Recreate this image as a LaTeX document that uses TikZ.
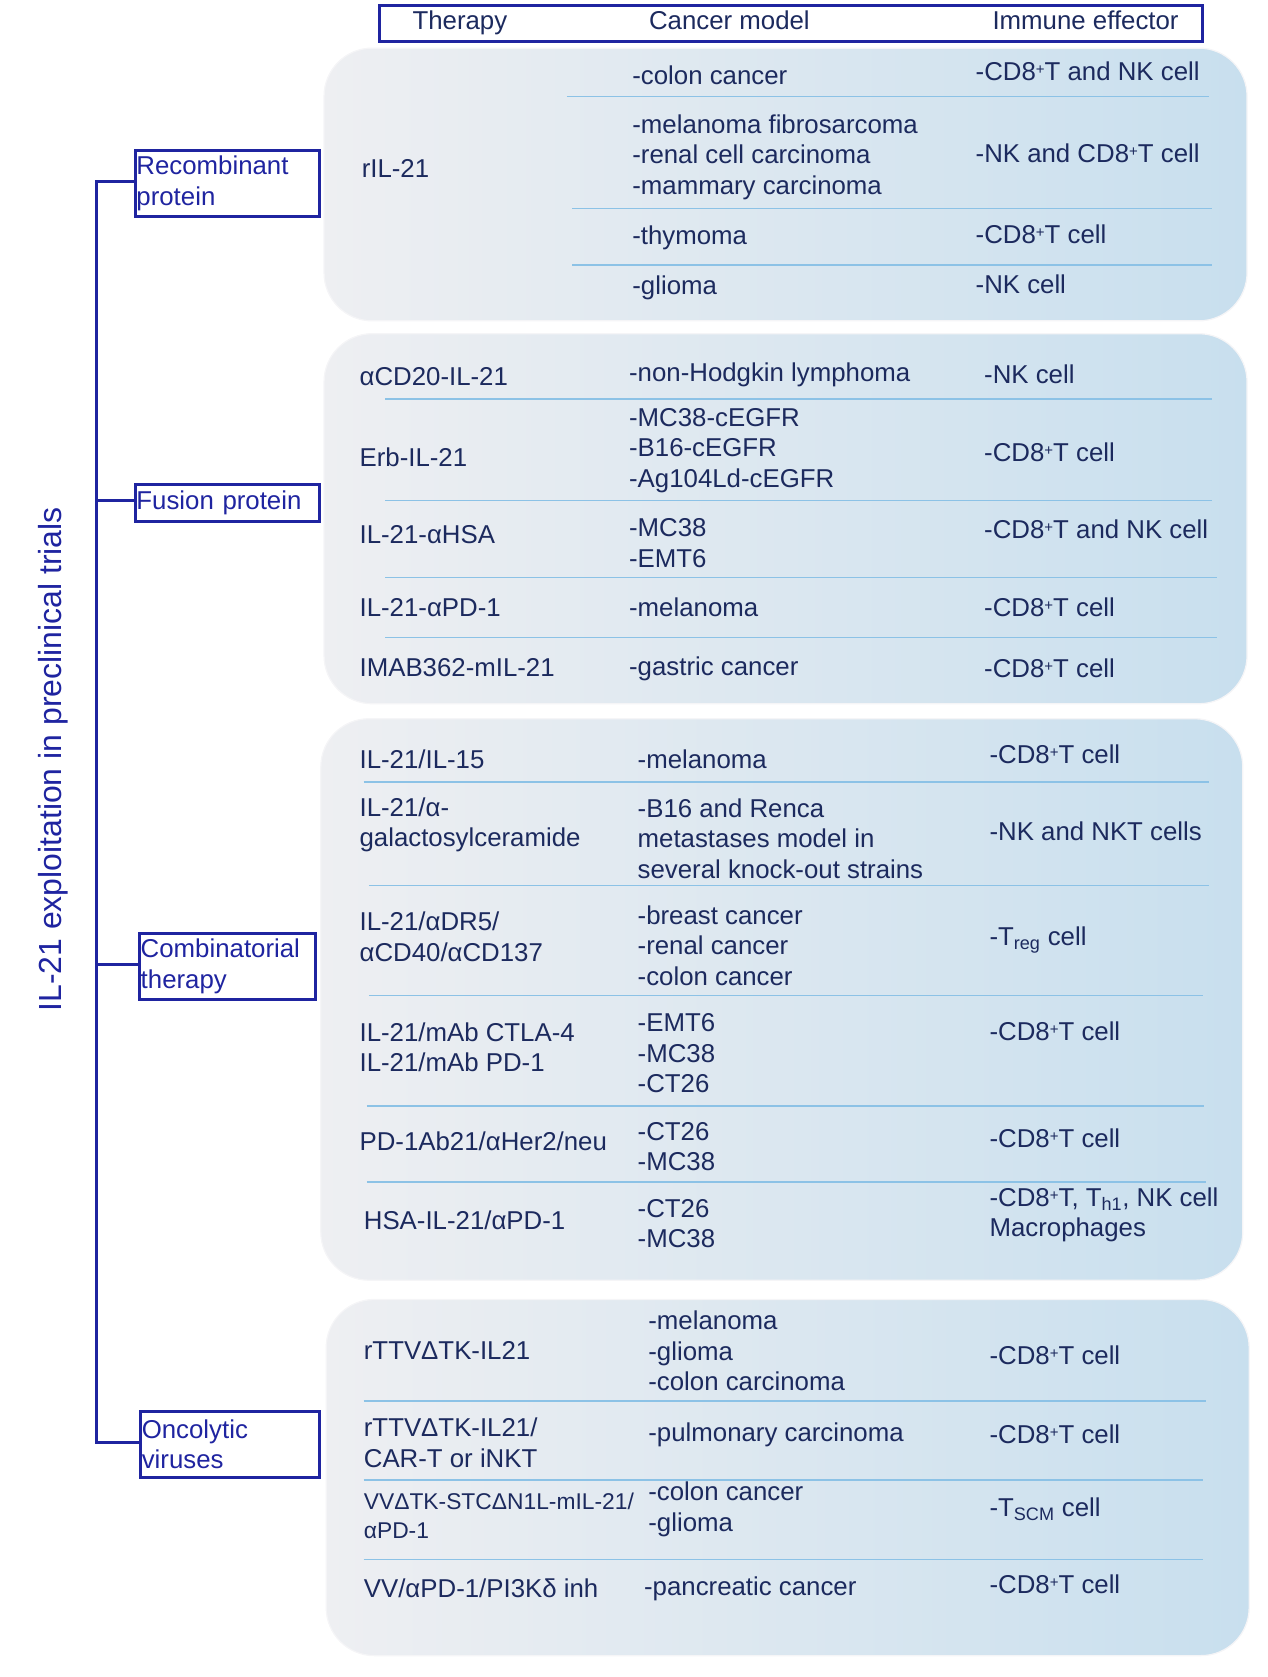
\documentclass[tikz,border=0pt]{standalone}
\usepackage{fontspec}
\setmainfont{Liberation Sans}
\definecolor{dblue}{HTML}{1F24A0}
\definecolor{txt}{HTML}{1C2A5E}
\definecolor{pgray}{HTML}{EEEFF2}
\definecolor{pblue}{HTML}{C8DFEE}
\definecolor{sep}{HTML}{8CC2E6}
\newcommand{\sps}[1]{\raisebox{0.45ex}{\fontsize{12}{12}\selectfont #1}}
\begin{document}
\begin{tikzpicture}[x=0.03cm,y=-0.03cm,
  panel/.style={rounded corners=1.35cm,left color=pgray,right color=pblue,draw=pgray!60!white,line width=1pt},
  sepl/.style={draw=sep,line width=1.2pt},
  t/.style={anchor=west,inner sep=0pt,text=txt,align=left,font=\fontsize{20.6}{24.3}\selectfont},
  cat/.style={draw=dblue,line width=2.4pt,text=dblue,anchor=north west,inner xsep=1pt,inner ysep=0pt,align=left,font=\fontsize{20.6}{24.3}\selectfont},
  tree/.style={draw=dblue,line width=2.6pt}]
\useasboundingbox (0,0) rectangle (1185,1568);
% header
\node[draw=dblue,line width=2.4pt,minimum width=770*0.03cm,minimum height=33*0.03cm,anchor=north west,inner sep=0pt] (hdr) at (353,4) {};
\node[t,anchor=base] (h1) at (430,28) {Therapy};
\node[t,anchor=base] (h2) at (682,28) {Cancer model};
\node[t,anchor=base] (h3) at (1015,28) {Immune effector};
% panels
\path[panel] (303,45) rectangle (1166,300);
\path[panel] (303,312) rectangle (1166,658);
\path[panel] (300,672) rectangle (1162,1197);
\path[panel] (305,1215) rectangle (1168,1548);
% separators
\foreach \y/\a/\b in {90/530/1130,195/535/1133,248/535/1133,373/360/1133,468/360/1133,540/360/1138,596/360/1138,731/340/1130,828/345/1130,931/345/1125,1034/343/1126,1105/343/1128,1310/340/1128,1384/340/1125,1458/340/1125}
  \draw[sepl] (\a,\y) -- (\b,\y);
% tree
\node[cat,text width=170*0.03cm,minimum height=62*0.03cm] (c1) at (125,139) {Recombinant\\protein};
\node[cat,text width=170*0.03cm,minimum height=34*0.03cm] (c2) at (125,452) {Fusion protein};
\node[cat,text width=162*0.03cm,minimum height=62*0.03cm] (c3) at (129,871) {Combinatorial\\therapy};
\node[cat,text width=165*0.03cm,minimum height=62*0.03cm] (c4) at (130,1318) {Oncolytic\\viruses};
\coordinate (v1) at (90,170);
\coordinate (v4) at (90,1349);
\draw[tree] (c1.west |- 0,170) -- (v1) -- (v4) -- (c4.west |- 0,1349);
\coordinate (v2) at (90,468);
\coordinate (v3) at (90,902);
\draw[tree] (v2) -- (c2.west |- 0,468);
\draw[tree] (v3) -- (c3.west |- 0,902);
\node[t,anchor=center,rotate=90,text=dblue,font=\fontsize{25.5}{30}\selectfont] (ttl) at (50,710) {IL-21 exploitation in preclinical trials};
% panel 1
\node[t] (a1) at (338,158) {rIL-21};
\node[t] (a2) at (591,70) {-colon cancer};
\node[t] (a3) at (591,147) {-melanoma fibrosarcoma\\-renal cell carcinoma\\-mammary carcinoma};
\node[t] (a4) at (591,222) {-thymoma};
\node[t] (a5) at (591,269) {-glioma};
\node[t] (a6) at (912,67) {-CD8\sps{+}T and NK cell};
\node[t] (a7) at (912,143) {-NK and CD8\sps{+}T cell};
\node[t] (a8) at (912,219) {-CD8\sps{+}T cell};
\node[t] (a9) at (912,266) {-NK cell};
% panel 2
\node[t] (b1) at (336,352) {αCD20-IL-21};
\node[t] (b2) at (336,428) {Erb-IL-21};
\node[t] (b3) at (336,500) {IL-21-αHSA};
\node[t] (b4) at (336,568) {IL-21-αPD-1};
\node[t] (b5) at (336,624) {IMAB362-mIL-21};
\node[t] (b6) at (588,350) {-non-Hodgkin lymphoma};
\node[t] (b7) at (588,421) {-MC38-cEGFR\\-B16-cEGFR\\-Ag104Ld-cEGFR};
\node[t] (b8) at (588,508) {-MC38\\-EMT6};
\node[t] (b9) at (588,568) {-melanoma};
\node[t] (b10) at (588,625) {-gastric cancer};
\node[t] (b11) at (920,350) {-NK cell};
\node[t] (b12) at (920,423) {-CD8\sps{+}T cell};
\node[t] (b13) at (920,495) {-CD8\sps{+}T and NK cell};
\node[t] (b14) at (920,568) {-CD8\sps{+}T cell};
\node[t] (b15) at (920,625) {-CD8\sps{+}T cell};
% panel 3
\node[t] (d1) at (336,710) {IL-21/IL-15};
\node[t] (d2) at (336,771) {IL-21/α-\\galactosylceramide};
\node[t] (d3) at (336,876) {IL-21/αDR5/\\αCD40/αCD137};
\node[t] (d4) at (336,979) {IL-21/mAb CTLA-4\\IL-21/mAb PD-1};
\node[t] (d5) at (336,1067) {PD-1Ab21/αHer2/neu};
\node[t] (d6) at (340,1141) {HSA-IL-21/αPD-1};
\node[t] (d7) at (596,710) {-melanoma};
\node[t] (d8) at (596,784) {-B16 and Renca\\metastases model in\\several knock-out strains};
\node[t] (d9) at (596,884) {-breast cancer\\-renal cancer\\-colon cancer};
\node[t] (d10) at (596,985) {-EMT6\\-MC38\\-CT26};
\node[t] (d11) at (596,1072) {-CT26\\-MC38};
\node[t] (d12) at (596,1144) {-CT26\\-MC38};
\node[t] (d13) at (925,705) {-CD8\sps{+}T cell};
\node[t] (d14) at (925,777) {-NK and NKT cells};
\node[t] (d15) at (925,879) {-T\textsubscript{reg} cell};
\node[t] (d16) at (925,964) {-CD8\sps{+}T cell};
\node[t] (d17) at (925,1064) {-CD8\sps{+}T cell};
\node[t] (d18) at (925,1136) {-CD8\sps{+}T, T\textsubscript{h1}, NK cell\\Macrophages};
% panel 4
\node[t] (e1) at (340,1263) {rTTVΔTK-IL21};
\node[t] (e2) at (340,1349) {rTTVΔTK-IL21/\\CAR-T or iNKT};
\node[t,font=\fontsize{18.2}{23}\selectfont] (e3) at (340,1417) {VVΔTK-STCΔN1L-mIL-21/\\αPD-1};
\node[t] (e4) at (340,1485) {VV/αPD-1/PI3Kδ inh};
\node[t] (e5) at (606,1263) {-melanoma\\-glioma\\-colon carcinoma};
\node[t] (e6) at (606,1342) {-pulmonary carcinoma};
\node[t] (e7) at (606,1411) {-colon cancer\\-glioma};
\node[t] (e8) at (602,1486) {-pancreatic cancer};
\node[t] (e9) at (925,1267) {-CD8\sps{+}T cell};
\node[t] (e10) at (925,1341) {-CD8\sps{+}T cell};
\node[t] (e11) at (925,1411) {-T\textsubscript{SCM} cell};
\node[t] (e12) at (925,1481) {-CD8\sps{+}T cell};
\end{tikzpicture}
\end{document}
